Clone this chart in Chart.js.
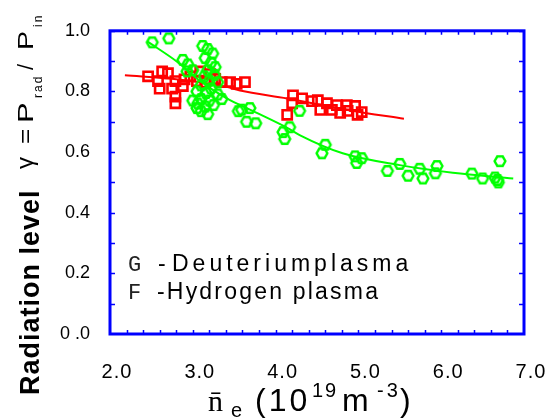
<!DOCTYPE html>
<html>
<head>
<meta charset="utf-8">
<script src="https://cdn.jsdelivr.net/npm/chart.js@4.4.1/dist/chart.umd.min.js"></script>
<style>
  html, body { margin: 0; padding: 0; background: #fff; }
</style>
</head>
<body>
<canvas id="chart" width="552" height="418"></canvas>
<script>
// Deuterium plasma (green hexagons)
const deutX = [2.51, 2.71, 2.88, 2.94, 2.93, 3.00,
  3.12, 3.18, 3.24, 3.15, 3.22, 3.27, 3.18, 3.26, 3.14, 3.20, 3.30, 3.10, 3.22, 3.05,
  3.16, 3.30, 3.10, 3.20, 3.35, 3.06, 3.15, 3.25, 3.10, 3.18, 3.05, 3.00,
  3.55, 3.59, 3.69, 3.65, 3.76,
  4.09, 4.17, 4.11, 4.29,
  4.60, 4.56, 4.96, 5.04, 4.98,
  5.35, 5.50, 5.60, 5.74, 5.78, 5.95, 5.93,
  6.37, 6.50, 6.65, 6.69, 6.68, 6.71];
const deutY = [0.962, 0.975, 0.904, 0.889, 0.866, 0.870,
  0.950, 0.940, 0.925, 0.910, 0.895, 0.880, 0.870, 0.855, 0.850, 0.835, 0.830, 0.820, 0.810, 0.800,
  0.795, 0.790, 0.775, 0.770, 0.775, 0.760, 0.750, 0.755, 0.735, 0.725, 0.745, 0.770,
  0.735, 0.740, 0.745, 0.700, 0.695,
  0.666, 0.682, 0.643, 0.736,
  0.624, 0.596, 0.586, 0.580, 0.564,
  0.538, 0.561, 0.522, 0.545, 0.513, 0.554, 0.530,
  0.529, 0.513, 0.516, 0.500, 0.508, 0.570];

// Hydrogen plasma (red squares)
const hydX = [2.46, 2.63, 2.58, 2.60, 2.70, 2.79, 2.75, 2.79, 2.79, 2.88, 2.90, 2.97,
  3.09, 3.05, 3.15, 3.21, 3.27, 3.35, 3.45, 3.53, 3.63,
  4.21, 4.32, 4.20, 4.14, 4.44, 4.51, 4.54, 4.62, 4.68, 4.74, 4.78, 4.86, 4.87, 4.96, 4.99, 5.04];
const hydY = [0.850, 0.866, 0.834, 0.809, 0.860, 0.834, 0.809, 0.783, 0.761, 0.818, 0.840, 0.850,
  0.866, 0.834, 0.830, 0.857, 0.841, 0.831, 0.831, 0.825, 0.831,
  0.787, 0.777, 0.761, 0.723, 0.768, 0.771, 0.739, 0.761, 0.739, 0.755, 0.729, 0.755, 0.736, 0.752, 0.723, 0.732];

// fitted curves
const deutFitX = [2.45, 2.81, 3.09, 3.41, 3.73, 4.14, 4.29, 4.81, 5.50, 6.14, 6.87];
const deutFitY = [0.965, 0.898, 0.834, 0.777, 0.735, 0.680, 0.656, 0.596, 0.557, 0.532, 0.513];
const hydFitX = [2.18, 2.80, 3.41, 3.57, 4.14, 4.90, 5.55];
const hydFitY = [0.853, 0.840, 0.815, 0.803, 0.777, 0.737, 0.710];

const xTickVals = [2, 3, 4, 5, 6, 7];
const xTickLabels = ['2.0', '3.0', '4.0', '5.0', '6.0', '7.0'];
const yTickLabels = {0: '0 .0', 0.2: '0.2', 0.4: '0.4', 0.6: '0.6', 0.8: '0.8', 1: '1.0'};

const GREEN = '#00ff00';
const RED = '#ff0000';
const BLUE = '#0000ff';
const SANS = '"Liberation Sans", Arial, sans-serif';

function toPoints(xs, ys) {
  return xs.map((x, i) => ({ x: x, y: ys[i] }));
}

// hollow hexagon used as point style
function hexMarker(color) {
  const c = document.createElement('canvas');
  c.width = 16; c.height = 16;
  const g = c.getContext('2d');
  g.strokeStyle = color;
  g.lineWidth = 2.4;
  g.beginPath();
  for (let i = 0; i < 6; i++) {
    const a = Math.PI / 3 * i;
    const px = 8 + 5.4 * Math.cos(a), py = 8 + 5.4 * Math.sin(a);
    if (i === 0) g.moveTo(px, py); else g.lineTo(px, py);
  }
  g.closePath();
  g.stroke();
  return c;
}

// rotated text for the y title
function rotText(ctx, str, font, t, baseX, spacing, stretch) {
  ctx.save();
  ctx.translate(baseX, 395 - t);
  ctx.rotate(-Math.PI / 2);
  if (stretch) ctx.scale(stretch, 1);
  ctx.font = font;
  ctx.letterSpacing = spacing || '0px';
  ctx.textAlign = 'left';
  ctx.textBaseline = 'alphabetic';
  ctx.fillText(str, 0, 0);
  ctx.restore();
}

function text(ctx, str, font, x, y, spacing, color) {
  ctx.save();
  ctx.font = font;
  ctx.letterSpacing = spacing || '0px';
  ctx.fillStyle = color || '#000';
  ctx.textAlign = 'left';
  ctx.textBaseline = 'alphabetic';
  ctx.fillText(str, x, y);
  ctx.restore();
}

const framePlugin = {
  id: 'frame',
  afterDraw(chart) {
    const ctx = chart.ctx;
    const a = chart.chartArea;
    const xs = chart.scales.x, ys = chart.scales.y;

    ctx.save();
    // ticks inward
    ctx.strokeStyle = BLUE;
    ctx.lineWidth = 1.5;
    ctx.beginPath();
    for (let v = 0.1; v < 1; v += 0.1) {
      const py = Math.round(ys.getPixelForValue(v)) + 0.5;
      ctx.moveTo(a.left, py); ctx.lineTo(a.left + 5, py);
      ctx.moveTo(a.right, py); ctx.lineTo(a.right - 5, py);
    }
    for (let v = 2.2; v < 7; v += 0.2) {
      const px = Math.round(xs.getPixelForValue(v)) + 0.5;
      ctx.moveTo(px, a.bottom); ctx.lineTo(px, a.bottom - 4);
      ctx.moveTo(px, a.top); ctx.lineTo(px, a.top + 4);
    }
    ctx.stroke();
    // frame
    ctx.lineWidth = 3;
    ctx.strokeRect(a.left, a.top, a.right - a.left, a.bottom - a.top);
    ctx.restore();

    // x tick labels
    ctx.save();
    ctx.font = '20px ' + SANS;
    ctx.letterSpacing = '1px';
    ctx.fillStyle = '#000';
    ctx.textAlign = 'center';
    xTickVals.forEach((v, i) => {
      ctx.fillText(xTickLabels[i], xs.getPixelForValue(v) + 7, 378);
    });
    ctx.restore();

    // x title
    text(ctx, 'n\u0304', '30px "Liberation Serif", serif', 208, 411);
    text(ctx, 'e', '20px ' + SANS, 231, 417);
    text(ctx, '(10', '32px ' + SANS, 255, 411, '3px');
    text(ctx, '19', '20px ' + SANS, 312, 397, '2px');
    text(ctx, 'm', '32px ' + SANS, 342, 411);
    text(ctx, '-3', '20px ' + SANS, 377, 397, '3px');
    text(ctx, ')', '32px ' + SANS, 400, 411);

    // y title
    ctx.fillStyle = '#000';
    rotText(ctx, 'Radiation level', 'bold 27px ' + SANS, 0, 39, '1px');
    rotText(ctx, '\u03b3', '24px ' + SANS, 226, 33);
    rotText(ctx, '=', '22px ' + SANS, 251, 33, '0px', 1.2);
    rotText(ctx, 'P', '22px ' + SANS, 272, 33, '0px', 1.4);
    rotText(ctx, 'rad', '12px ' + SANS, 297, 42, '2px');
    rotText(ctx, '/', '22px ' + SANS, 325, 33);
    rotText(ctx, 'P', '22px ' + SANS, 345, 33, '0px', 1.3);
    rotText(ctx, 'in', '12px ' + SANS, 368, 42, '2px');

    // legend inside the plot
    text(ctx, 'G', '22px "Liberation Mono", monospace', 128, 271, '0px', '#222');
    text(ctx, '-', '23px ' + SANS, 158, 271);
    text(ctx, 'Deuteriumplasma', '23px ' + SANS, 172, 271, '4px');
    text(ctx, 'F', '22px "Liberation Mono", monospace', 128, 299, '0px', '#222');
    text(ctx, '-Hydrogen plasma', '23px ' + SANS, 157, 299, '2.2px');
  }
};

const ctx = document.getElementById('chart').getContext('2d');

const chart = new Chart(ctx, {
  type: 'scatter',
  data: {
    datasets: [
      {
        label: 'Deuterium plasma',
        data: toPoints(deutX, deutY),
        pointStyle: hexMarker(GREEN),
        pointRadius: 6,
        borderColor: GREEN,
        showLine: false
      },
      {
        label: 'Deuterium fit',
        data: toPoints(deutFitX, deutFitY),
        showLine: true,
        pointRadius: 0,
        borderColor: GREEN,
        borderWidth: 2,
        tension: 0.4,
        cubicInterpolationMode: 'monotone'
      },
      {
        label: 'Hydrogen plasma',
        data: toPoints(hydX, hydY),
        pointStyle: 'rect',
        pointRadius: 6.5,
        borderColor: RED,
        borderWidth: 2.6,
        backgroundColor: 'rgba(0,0,0,0)',
        showLine: false
      },
      {
        label: 'Hydrogen fit',
        data: toPoints(hydFitX, hydFitY),
        showLine: true,
        pointRadius: 0,
        borderColor: RED,
        borderWidth: 2,
        tension: 0.4,
        cubicInterpolationMode: 'monotone'
      }
    ]
  },
  options: {
    responsive: false,
    animation: false,
    devicePixelRatio: 1,
    layout: { padding: { top: 20, right: 28, left: 0, bottom: 0 } },
    scales: {
      x: {
        type: 'linear',
        min: 2,
        max: 7,
        grid: { display: false },
        border: { display: false },
        ticks: { display: false },
        afterFit: (scale) => { scale.height = 84; }
      },
      y: {
        min: 0,
        max: 1,
        grid: { display: false, drawTicks: false },
        border: { display: false },
        ticks: {
          stepSize: 0.2,
          padding: 20,
          color: '#000',
          font: { family: SANS, size: 18 },
          callback: (v) => yTickLabels[Math.round(v * 10) / 10]
        },
        afterFit: (scale) => { scale.width = 110; }
      }
    },
    plugins: {
      legend: { display: false },
      tooltip: { enabled: false }
    }
  },
  plugins: [framePlugin]
});
</script>
</body>
</html>
